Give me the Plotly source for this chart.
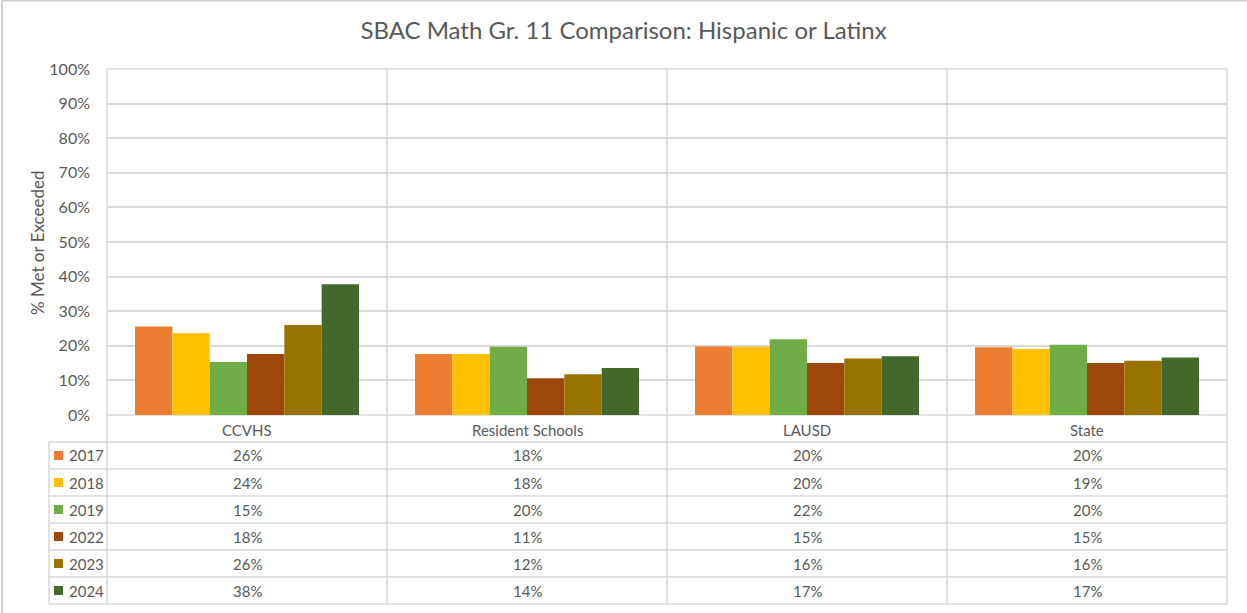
import plotly.graph_objects as go

categories = ["CCVHS", "Resident Schools", "LAUSD", "State"]
years = ["2017", "2018", "2019", "2022", "2023", "2024"]
values = {
    "2017": [25.6, 17.6, 19.8, 19.6],
    "2018": [23.6, 17.6, 19.7, 19.1],
    "2019": [15.3, 19.7, 21.9, 20.3],
    "2022": [17.6, 10.6, 15.0, 15.0],
    "2023": [26.0, 11.8, 16.3, 15.7],
    "2024": [37.8, 13.6, 17.0, 16.6],
}
colors = ["#ED7D31", "#FFC000", "#70AD47", "#9E480E", "#997300", "#43682B"]
y_ticks = list(range(0, 101, 10))

W, H = 1247, 613
L, R, T, B = 107, 1227, 69, 415  # plot area in pixels
FONT = "Lato"
GRID = "#D9D9D9"
TXT = "#595959"

def xp(px):
    return (px - L) / (R - L)

def yp(py):
    return (B - py) / (B - T)

fig = go.Figure()
for yr, col in zip(years, colors):
    fig.add_trace(go.Bar(x=categories, y=values[yr], name=yr, marker_color=col,
                         marker_line_width=0))

shapes = []
annotations = []

header_bottom = 442
row_h = 27
rows_top = header_bottom
table_bottom = rows_top + row_h * len(years)
legend_left = 49
ncat = len(categories)
cat_w = (R - L) / ncat

def line(x0, y0, x1, y1, color=GRID, width=1.5):
    shapes.append(dict(type="line", xref="paper", yref="paper",
                       x0=xp(x0), y0=yp(y0), x1=xp(x1), y1=yp(y1),
                       line=dict(color=color, width=width), layer="below"))

for i in range(ncat + 1):
    x = L + i * cat_w
    line(x, T, x, table_bottom)
line(L, T, R, T)
line(L, B, R, B)
for j in range(len(years) + 1):
    y = rows_top + j * row_h
    line(legend_left, y, R, y)
line(legend_left, rows_top, legend_left, table_bottom)

def txt(x, y, text, size=15, xanchor="center"):
    annotations.append(dict(x=xp(x), y=yp(y), xref="paper", yref="paper",
                            text=text, showarrow=False, xanchor=xanchor,
                            yanchor="middle",
                            font=dict(family=FONT, size=size, color=TXT)))

for i, c in enumerate(categories):
    txt(L + (i + 0.5) * cat_w, (B + header_bottom) / 2 + 1, c)

for j, (yr, col) in enumerate(zip(years, colors)):
    yc = rows_top + (j + 0.5) * row_h
    shapes.append(dict(type="rect", xref="paper", yref="paper",
                       x0=xp(54), x1=xp(63), y0=yp(yc - 4.5), y1=yp(yc + 4.5),
                       fillcolor=col, line=dict(width=0)))
    txt(67, yc, yr, xanchor="left")
    for i in range(ncat):
        txt(L + (i + 0.5) * cat_w, yc, f"{round(values[yr][i])}%")

annotations.append(dict(x=xp(37), y=yp(243), xref="paper", yref="paper",
                        text="% Met or Exceeded", textangle=-90, showarrow=False,
                        xanchor="center", yanchor="middle",
                        font=dict(family=FONT, size=17, color=TXT)))

# outer chart border (left and top visible)
line(2, 0.5, 2, 613, color="#CFCFCF", width=2)
line(2, 0.5, 1247, 0.5, color="#CFCFCF", width=2)

fig.update_layout(
    width=W, height=H,
    margin=dict(l=L, r=W - R, t=T, b=H - B),
    paper_bgcolor="white", plot_bgcolor="white",
    barmode="group", bargap=0.2, bargroupgap=0,
    showlegend=False,
    title=dict(text="SBAC Math Gr. 11 Comparison: Hispanic or Latinx",
               x=0.5, xref="container", xanchor="center",
               y=1 - 31 / H, yanchor="middle",
               font=dict(family=FONT, size=24, color=TXT)),
    xaxis=dict(showticklabels=False, showgrid=False, zeroline=False,
               showline=False, ticks=""),
    yaxis=dict(range=[0, 100], tickvals=y_ticks,
               ticktext=[f"{v}%" for v in y_ticks],
               showgrid=True, gridcolor=GRID, gridwidth=1.5, zeroline=False,
               showline=False, ticks="", ticklabelstandoff=16,
               tickfont=dict(family=FONT, size=16, color=TXT)),
    shapes=shapes, annotations=annotations,
)

fig.write_html("out.html")
